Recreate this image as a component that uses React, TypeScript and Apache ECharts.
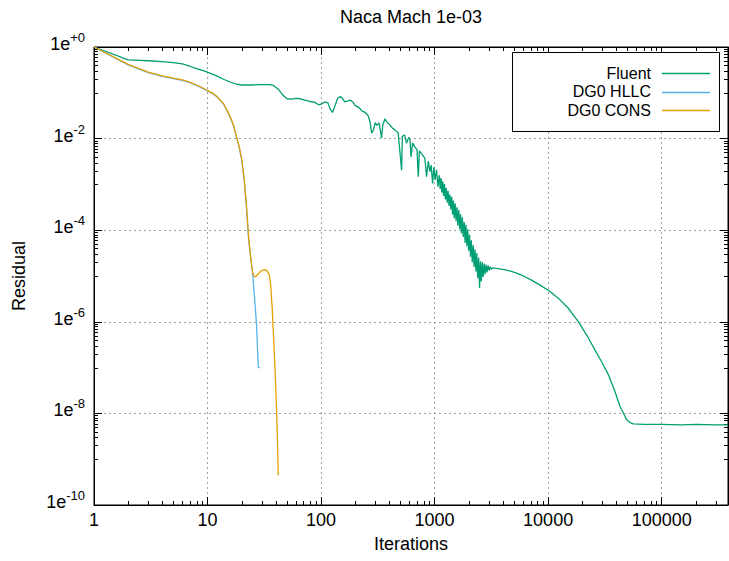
import React, { useEffect, useRef } from 'react';
import * as echarts from 'echarts';

const FONT = '"Liberation Sans", Arial, Helvetica, sans-serif';

const titleText = 'Naca Mach 1e-03';
const xName = 'Iterations';
const yName = 'Residual';
const seriesNames = ['Fluent', 'DG0 HLLC', 'DG0 CONS'];
const seriesColors = ['#009e73', '#56b4e9', '#e69f00'];

const xMin = 1;
const xMax = 384000;
const yMin = 1e-10;
const yMax = 1;

// [iteration, residual]
const fluent: [number, number][] = [
  [1, 1], [2, 5.25e-1], [3, 5.01e-1], [4, 4.79e-1], [5, 4.57e-1], [6, 4.27e-1], [7, 3.8e-1], [8, 3.39e-1],
  [9, 3.09e-1], [10, 2.82e-1], [12, 2.34e-1], [14, 1.95e-1], [16, 1.7e-1], [18, 1.55e-1], [20, 1.48e-1],
  [25, 1.48e-1], [30, 1.51e-1], [35, 1.51e-1], [38, 1.45e-1], [42, 1.2e-1], [46, 8.91e-2], [50, 7.41e-2],
  [55, 7.24e-2], [60, 7.59e-2], [66, 7.41e-2], [72, 6.92e-2], [80, 6.46e-2], [88, 6.17e-2], [95, 5.5e-2],
  [100, 5.62e-2], [108, 6.31e-2], [115, 6.03e-2], [120, 4.47e-2], [126, 3.72e-2], [132, 5.01e-2],
  [140, 7.59e-2], [148, 8.32e-2], [155, 7.41e-2], [162, 6.31e-2], [170, 6.61e-2], [180, 6.92e-2],
  [190, 6.31e-2], [200, 5.25e-2], [215, 4.79e-2], [230, 3.98e-2], [245, 3.72e-2], [260, 3.16e-2],
  [270, 2.34e-2], [279, 1.32e-2], [290, 1.58e-2], [300, 2.24e-2], [310, 1.95e-2], [325, 2.19e-2],
  [341, 1.02e-2], [350, 2.0e-2], [365, 2.69e-2], [380, 2.29e-2], [403, 2.0e-2], [425, 1.7e-2],
  [446, 1.55e-2], [478, 1.32e-2], [512, 2.04e-3], [520, 1.12e-2], [545, 1.2e-2], [566, 7.94e-3],
  [590, 1.05e-2], [606, 1.0e-2], [620, 3.98e-3], [640, 7.94e-3], [670, 6.61e-3], [700, 5.75e-3],
  [718, 1.48e-3], [735, 5.37e-3], [780, 4.47e-3], [821, 3.72e-3], [850, 1.48e-3], [880, 3.24e-3],
  [910, 1.91e-3], [933, 2.63e-3], [960, 1.05e-3], [985, 2.4e-3], [1010, 1.26e-3], [1040, 2.09e-3],
  [1070, 8.91e-4], [1100, 1.58e-3], [1120, 7.94e-4], [1140, 1.38e-3], [1160, 6.61e-4], [1180, 1.17e-3],
  [1200, 5.62e-4], [1222, 1.02e-3], [1245, 4.68e-4], [1268, 8.32e-4], [1290, 3.98e-4], [1315, 7.24e-4],
  [1340, 3.39e-4], [1365, 6.03e-4], [1390, 2.82e-4], [1415, 5.37e-4], [1440, 2.19e-4], [1465, 4.47e-4],
  [1490, 1.82e-4], [1518, 3.8e-4], [1546, 1.58e-4], [1575, 3.16e-4], [1605, 1.26e-4], [1635, 2.75e-4],
  [1665, 1.05e-4], [1695, 2.24e-4], [1725, 8.51e-5], [1757, 1.91e-4], [1790, 7.08e-5], [1823, 1.51e-4],
  [1857, 5.25e-5], [1890, 1.32e-4], [1925, 4.47e-5], [1960, 1.05e-4], [1995, 3.55e-5], [2032, 7.94e-5],
  [2070, 2.63e-5], [2108, 6.03e-5], [2147, 2.0e-5], [2187, 4.68e-5], [2228, 1.58e-5], [2270, 3.8e-5],
  [2312, 1.26e-5], [2355, 3.16e-5], [2400, 8.91e-6], [2445, 2.51e-5], [2490, 5.5e-6], [2535, 2.09e-5],
  [2580, 7.59e-6], [2630, 2.0e-5], [2680, 9.55e-6], [2730, 1.86e-5], [2785, 1.1e-5], [2840, 1.78e-5],
  [2900, 1.2e-5], [2960, 1.7e-5], [3020, 1.32e-5], [3080, 1.58e-5], [3150, 1.41e-5], [3250, 1.51e-5],
  [3400, 1.48e-5], [3640, 1.45e-5], [4100, 1.38e-5], [4600, 1.29e-5], [5200, 1.17e-5], [5800, 1.05e-5],
  [7000, 8.32e-6], [8500, 6.31e-6], [10400, 4.57e-6], [12500, 3.16e-6], [15000, 2.0e-6], [18500, 1.0e-6],
  [22000, 5.01e-7], [25900, 2.4e-7], [30000, 1.26e-7], [34000, 6.92e-8], [38500, 3.16e-8], [43000, 1.41e-8],
  [46500, 9.55e-9], [49300, 7.24e-9], [52500, 6.31e-9], [56400, 5.89e-9], [70000, 5.75e-9],
  [100000, 5.75e-9], [150000, 5.62e-9], [200000, 5.75e-9], [300000, 5.62e-9], [384000, 5.62e-9],
];

const dg0Hllc: [number, number][] = [
  [1, 1], [2, 4.07e-1], [3, 2.75e-1], [4, 2.29e-1], [5, 2.04e-1], [6, 1.86e-1], [7, 1.66e-1], [8, 1.45e-1],
  [9, 1.26e-1], [10, 1.1e-1], [11, 9.77e-2], [12, 8.32e-2], [13, 6.76e-2], [14, 5.37e-2], [15, 3.89e-2],
  [16, 2.75e-2], [17, 1.86e-2], [18, 1.07e-2], [19, 6.46e-3], [20, 3.39e-3], [21, 1.26e-3], [22, 3.31e-4],
  [23, 6.31e-5], [24, 2.51e-5], [25, 1.12e-5], [26, 3.16e-6], [27, 8.91e-7], [28, 1.0e-7], [29, 1.0e-7],
];

const dg0Cons: [number, number][] = [
  [1, 1], [2, 4.17e-1], [3, 2.82e-1], [4, 2.34e-1], [5, 2.09e-1], [6, 1.91e-1], [7, 1.7e-1], [8, 1.48e-1],
  [9, 1.29e-1], [10, 1.12e-1], [11, 1.0e-1], [12, 8.51e-2], [13, 6.92e-2], [14, 5.5e-2], [15, 3.98e-2],
  [16, 2.82e-2], [17, 1.91e-2], [18, 1.1e-2], [19, 6.76e-3], [20, 3.55e-3], [21, 1.35e-3], [22, 3.55e-4],
  [23, 7.08e-5], [24, 2.51e-5], [25, 1.17e-5], [26, 9.55e-6], [27, 1.0e-5], [28, 1.12e-5], [29, 1.23e-5],
  [30, 1.32e-5], [31, 1.35e-5], [32, 1.38e-5], [33, 1.35e-5], [34, 1.2e-5], [35, 1.05e-5], [36, 6.31e-6],
  [37, 2.24e-6], [38, 6.03e-7], [39, 1.41e-7], [40, 3.16e-8], [41, 5.01e-9], [42, 4.47e-10],
];

const seriesData = [fluent, dg0Hllc, dg0Cons];

// minor tick positions (gnuplot style)
const xMinorTicks: number[] = [];
for (let d = 0; d <= 5; d++) {
  for (let k = 2; k <= 9; k++) {
    const v = k * Math.pow(10, d);
    if (v < xMax) xMinorTicks.push(v);
  }
}
const yMinorTicks: number[] = [];
for (const e of [-1, -3, -5, -7, -9]) {
  for (let k = 1; k <= 9; k++) yMinorTicks.push(k * Math.pow(10, e));
}

const isPow10 = (v: number) => Math.abs(Math.log10(v) - Math.round(Math.log10(v))) < 1e-6;

const xLabel = (v: number) => (isPow10(v) ? String(Math.round(v)) : '');
const yLabel = (v: number) => {
  if (!isPow10(v)) return '';
  const e = Math.round(Math.log10(v));
  const s = e >= 0 ? '+' + e : String(e);
  return '{b|1e}{s|' + s + '}';
};

function buildOption() {
  const axisCommon = {
    axisLine: { show: true, lineStyle: { color: '#000', width: 1 } },
    axisTick: { show: true, inside: true, length: 8, lineStyle: { color: '#000', width: 1 } },
    minorTick: { show: false },
  };
  const lineSeries = seriesData.map((d, i) => ({
    type: 'line',
    name: seriesNames[i],
    data: d,
    xAxisIndex: 0,
    yAxisIndex: 0,
    showSymbol: false,
    symbol: 'none',
    lineStyle: { color: seriesColors[i], width: 1.3 },
    itemStyle: { color: seriesColors[i] },
    z: 3 + i,
  }));

  const tickStyle = { stroke: '#000', lineWidth: 1 };

  const xMinorSeries = {
    type: 'custom',
    name: 'xminor',
    silent: true,
    clip: false,
    xAxisIndex: 0,
    yAxisIndex: 0,
    data: xMinorTicks.map((v) => [v, 1e-5]),
    encode: { x: 0, y: 1 },
    renderItem: (params: any, api: any) => {
      const cs = params.coordSys;
      const p = api.coord([api.value(0), api.value(1)]);
      const x = Math.round(p[0]) + 0.5;
      const yb = cs.y + cs.height;
      return {
        type: 'group',
        children: [
          { type: 'line', shape: { x1: x, y1: yb, x2: x, y2: yb - 4 }, style: tickStyle },
          { type: 'line', shape: { x1: x, y1: cs.y, x2: x, y2: cs.y + 4 }, style: tickStyle },
        ],
      };
    },
  };

  const yMinorSeries = {
    type: 'custom',
    name: 'yminor',
    silent: true,
    clip: false,
    xAxisIndex: 0,
    yAxisIndex: 0,
    data: yMinorTicks.map((v) => [10, v]),
    encode: { x: 0, y: 1 },
    renderItem: (params: any, api: any) => {
      const cs = params.coordSys;
      const p = api.coord([api.value(0), api.value(1)]);
      const y = Math.round(p[1]) + 0.5;
      const xr = cs.x + cs.width;
      return {
        type: 'group',
        children: [
          { type: 'line', shape: { x1: cs.x, y1: y, x2: cs.x + 4, y2: y }, style: tickStyle },
          { type: 'line', shape: { x1: xr, y1: y, x2: xr - 4, y2: y }, style: tickStyle },
        ],
      };
    },
  };

  const legendX = 512.5;
  const legendY = 52.5;
  const legendW = 207;
  const legendH = 79;
  const rowY = [73, 91.5, 110];
  const legendGraphics: any[] = [
    {
      type: 'rect',
      shape: { x: legendX, y: legendY, width: legendW, height: legendH },
      style: { fill: '#fff', stroke: '#000', lineWidth: 1 },
      z: 100,
    },
  ];
  seriesNames.forEach((n, i) => {
    legendGraphics.push({
      type: 'text',
      x: 651,
      y: rowY[i],
      style: {
        text: n,
        fontFamily: FONT,
        fontSize: 16,
        lineHeight: 16,
        fill: '#000',
        textAlign: 'right',
        textVerticalAlign: 'middle',
      },
      z: 101,
    });
    legendGraphics.push({
      type: 'line',
      shape: { x1: 662, y1: Math.round(rowY[i]) + 0.5, x2: 710, y2: Math.round(rowY[i]) + 0.5 },
      style: { stroke: seriesColors[i], lineWidth: 1.3 },
      z: 101,
    });
  });

  return {
    animation: false,
    backgroundColor: '#fff',
    textStyle: { fontFamily: FONT },
    grid: {
      left: 94,
      right: 1,
      top: 47,
      bottom: 56,
      show: true,
      borderColor: '#000',
      borderWidth: 1,
      backgroundColor: 'transparent',
    },
    graphic: [
      {
        type: 'text',
        x: 411,
        y: 17,
        style: {
          text: titleText,
          fontFamily: FONT,
          fontSize: 18,
          fill: '#000',
          textAlign: 'center',
          textVerticalAlign: 'middle',
        },
      },
      ...legendGraphics,
    ],
    xAxis: [
      {
        type: 'log',
        logBase: 10,
        min: xMin,
        max: xMax,
        name: xName,
        nameLocation: 'middle',
        nameGap: 30,
        nameTextStyle: { fontFamily: FONT, fontSize: 18, color: '#000' },
        ...axisCommon,
        axisLabel: {
          formatter: xLabel,
          fontFamily: FONT,
          fontSize: 18,
          color: '#000',
          margin: 6,
          showMinLabel: true,
          showMaxLabel: false,
        },
        splitLine: { show: true, lineStyle: { color: '#a0a0a0', type: [2, 3], width: 1 } },
      },
      {
        type: 'log',
        logBase: 10,
        min: xMin,
        max: xMax,
        position: 'top',
        ...axisCommon,
        axisLabel: { show: false },
        splitLine: { show: false },
      },
    ],
    yAxis: [
      {
        type: 'log',
        logBase: 10,
        min: yMin,
        max: yMax,
        interval: 2,
        name: yName,
        nameLocation: 'middle',
        nameGap: 66,
        nameRotate: 90,
        nameTextStyle: { fontFamily: FONT, fontSize: 18, color: '#000' },
        ...axisCommon,
        axisLabel: {
          formatter: yLabel,
          margin: 9,
          color: '#000',
          padding: [0, 0, 10, 0],
          rich: {
            b: { fontFamily: FONT, fontSize: 18, color: '#000', lineHeight: 22, verticalAlign: 'bottom' },
            s: { fontFamily: FONT, fontSize: 13, color: '#000', lineHeight: 22, verticalAlign: 'top' },
          },
        },
        splitLine: { show: true, lineStyle: { color: '#a0a0a0', type: [2, 3], width: 1 } },
      },
      {
        type: 'log',
        logBase: 10,
        min: yMin,
        max: yMax,
        interval: 2,
        position: 'right',
        ...axisCommon,
        axisLabel: { show: false },
        splitLine: { show: false },
      },
    ],
    series: [...lineSeries, xMinorSeries, yMinorSeries],
  };
}

export default function App() {
  const ref = useRef<HTMLDivElement>(null);
  useEffect(() => {
    if (!ref.current) return;
    const chart = echarts.init(ref.current, undefined, { renderer: 'svg' });
    chart.setOption(buildOption() as any);
    return () => {
      chart.dispose();
    };
  }, []);
  return (
    <div
      ref={ref}
      style={{ position: 'fixed', left: 0, top: 0, width: 729, height: 561, background: '#fff' }}
    />
  );
}
